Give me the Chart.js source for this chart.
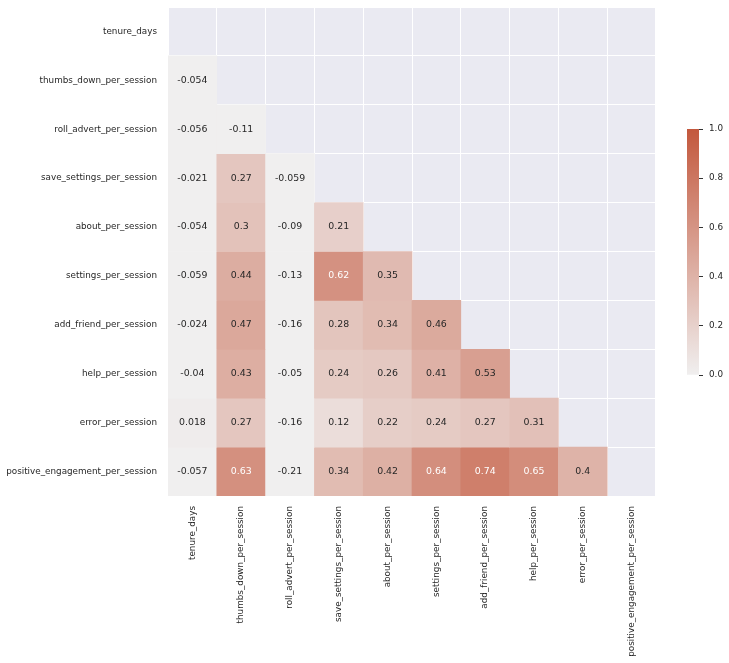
<!DOCTYPE html>
<html>
<head>
<meta charset="utf-8">
<script src="https://cdn.jsdelivr.net/npm/chart.js@4/dist/chart.umd.min.js"></script>
<style>
  body { margin: 0; background: #fff; }
  #wrap { position: relative; width: 729px; height: 663px; }
  #heatmap { position: absolute; left: 0; top: 0; }
  #colorbar { position: absolute; left: 687px; top: 122px; }
</style>
</head>
<body>
<div id="wrap">
  <canvas id="heatmap" width="729" height="663"></canvas>
  <canvas id="colorbar" width="42" height="260"></canvas>
</div>
<script>
// feature names (rows and columns are the same)
const features = [
    'tenure_days',
    'thumbs_down_per_session',
    'roll_advert_per_session',
    'save_settings_per_session',
    'about_per_session',
    'settings_per_session',
    'add_friend_per_session',
    'help_per_session',
    'error_per_session',
    'positive_engagement_per_session'
];

// lower triangle of the correlation matrix, one array per row
const tenureRow = [];
const thumbsDownRow = [-0.054];
const rollAdvertRow = [-0.056, -0.11];
const saveSettingsRow = [-0.021, 0.27, -0.059];
const aboutRow = [-0.054, 0.3, -0.09, 0.21];
const settingsRow = [-0.059, 0.44, -0.13, 0.62, 0.35];
const addFriendRow = [-0.024, 0.47, -0.16, 0.28, 0.34, 0.46];
const helpRow = [-0.04, 0.43, -0.05, 0.24, 0.26, 0.41, 0.53];
const errorRow = [0.018, 0.27, -0.16, 0.12, 0.22, 0.24, 0.27, 0.31];
const positiveRow = [-0.057, 0.63, -0.21, 0.34, 0.42, 0.64, 0.74, 0.65, 0.4];

const colorbarTicks = [0, 0.2, 0.4, 0.6, 0.8, 1.0];

const rows = [tenureRow, thumbsDownRow, rollAdvertRow, saveSettingsRow, aboutRow,
    settingsRow, addFriendRow, helpRow, errorRow, positiveRow];

const FONT = 'DejaVu Sans';
const TEXT = '#262626';
const LOW = [240, 239, 239];
const HIGH = [195, 88, 61];

function cmap(v) {
    const t = Math.max(0, Math.min(1, v));
    return LOW.map((c, i) => Math.round(c + (HIGH[i] - c) * t));
}
function rgb(c) {
    return 'rgb(' + c.join(',') + ')';
}
function luminance(c) {
    const lin = c.map(x => {
        x = x / 255;
        return x <= 0.03928 ? x / 12.92 : Math.pow((x + 0.055) / 1.055, 2.4);
    });
    return 0.2126 * lin[0] + 0.7152 * lin[1] + 0.0722 * lin[2];
}
function fmt(v) {
    return String(Number(v.toPrecision(2)));
}

const datasets = rows.map((row, ri) => ({
    data: features.map((f, ci) => ci < row.length ? [ri, ri + 1] : null),
    backgroundColor: features.map((f, ci) => ci < row.length ? rgb(cmap(row[ci])) : 'rgba(0,0,0,0)'),
    borderWidth: 0,
    grouped: false,
    barPercentage: 1,
    categoryPercentage: 1
}));

const backgroundPlugin = {
    id: 'areaBackground',
    beforeDraw(chart) {
        const a = chart.chartArea;
        const ctx = chart.ctx;
        ctx.save();
        ctx.fillStyle = '#EAEAF2';
        ctx.fillRect(a.left, a.top, a.right - a.left, a.bottom - a.top);
        ctx.restore();
    }
};

const annotatePlugin = {
    id: 'annotate',
    afterDraw(chart) {
        const ctx = chart.ctx;
        const xs = chart.scales.x;
        const ys = chart.scales.y;
        ctx.save();
        ctx.font = '9.4px "' + FONT + '"';
        ctx.textAlign = 'center';
        ctx.textBaseline = 'middle';
        rows.forEach((row, ri) => {
            row.forEach((v, ci) => {
                const col = cmap(v);
                ctx.fillStyle = luminance(col) > 0.408 ? TEXT : '#ffffff';
                ctx.fillText(fmt(v), xs.getPixelForValue(ci), ys.getPixelForValue(ri + 0.5));
            });
        });
        ctx.restore();
    }
};

new Chart(document.getElementById('heatmap').getContext('2d'), {
    type: 'bar',
    data: { labels: features, datasets: datasets },
    options: {
        responsive: false,
        animation: false,
        layout: { padding: { top: 7, right: 73, left: 0, bottom: 0 } },
        plugins: { legend: { display: false }, tooltip: { enabled: false } },
        scales: {
            x: {
                type: 'category',
                offset: true,
                z: 1,
                grid: { offset: true, color: '#ffffff', lineWidth: 1, drawTicks: false },
                border: { display: false },
                ticks: {
                    autoSkip: false,
                    maxRotation: 90,
                    minRotation: 90,
                    padding: 10,
                    color: TEXT,
                    font: { family: FONT, size: 8.8 }
                },
                afterFit(scale) { scale.height = 167; }
            },
            y: {
                type: 'linear',
                min: 0,
                max: 10,
                reverse: true,
                z: 1,
                grid: {
                    color: c => (c.tick && c.tick.value % 1 === 0) ? '#ffffff' : 'rgba(0,0,0,0)',
                    lineWidth: 1,
                    drawTicks: false
                },
                border: { display: false },
                ticks: {
                    stepSize: 0.5,
                    maxTicksLimit: 40,
                    autoSkip: false,
                    padding: 11,
                    color: TEXT,
                    font: { family: FONT, size: 8.8 },
                    callback: v => (v % 1 === 0.5) ? features[Math.floor(v)] : ''
                },
                afterFit(scale) {
                    scale.width = 168;
                    scale.paddingTop = 0;
                    scale.paddingBottom = 0;
                }
            }
        }
    },
    plugins: [backgroundPlugin, annotatePlugin]
});

// colorbar
new Chart(document.getElementById('colorbar').getContext('2d'), {
    type: 'bar',
    data: {
        labels: [''],
        datasets: [{
            data: [[0, 1]],
            borderWidth: 0,
            barPercentage: 1,
            categoryPercentage: 1,
            backgroundColor(c) {
                const a = c.chart.chartArea;
                if (!a) return rgb(LOW);
                const g = c.chart.ctx.createLinearGradient(0, a.bottom, 0, a.top);
                g.addColorStop(0, rgb(LOW));
                g.addColorStop(1, rgb(HIGH));
                return g;
            }
        }]
    },
    options: {
        responsive: false,
        animation: false,
        layout: { padding: { top: 7, bottom: 7, left: 0, right: 0 } },
        plugins: { legend: { display: false }, tooltip: { enabled: false } },
        scales: {
            x: { display: false, offset: true },
            y: {
                position: 'right',
                min: 0,
                max: 1,
                afterBuildTicks(scale) { scale.ticks = colorbarTicks.map(v => ({ value: v })); },
                grid: { drawOnChartArea: false, drawTicks: true, tickLength: 4, color: '#333333', lineWidth: 1 },
                border: { display: false },
                ticks: {
                    padding: 6,
                    color: TEXT,
                    font: { family: FONT, size: 8.8 },
                    callback: v => v.toFixed(1)
                },
                afterFit(scale) {
                    scale.width = 30;
                    scale.paddingTop = 0;
                    scale.paddingBottom = 0;
                }
            }
        }
    }
});
</script>
</body>
</html>
